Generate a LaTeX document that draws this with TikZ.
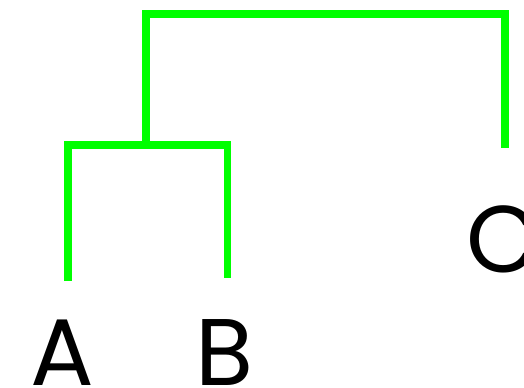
\documentclass[tikz,border=0pt]{standalone}
\usepackage{fontspec}
\setmainfont{Poppins}

\definecolor{branchgreen}{RGB}{0,255,0}

\tikzset{
  leaf/.style={inner sep=0pt,anchor=base,font=\fontsize{95}{95}\selectfont},
  branch/.style={draw=branchgreen,line width=7.5bp}
}

\begin{document}
\begin{tikzpicture}[x=1bp,y=-1bp]
  \useasboundingbox (0,0) rectangle (524,387);

  \node[leaf] (A) at (+62.5,+385.0) {A};
  \node[leaf] (B) at (+225.0,+385.0) {B};
  \node[leaf] (C) at (+503.0,+272.0) {C};

  \coordinate (a)    at (+68.0,+281.0);
  \coordinate (b)    at (+227.5,+278.0);
  \coordinate (c)    at (+505.0,+148.0);
  \coordinate (AB)   at (+146.0,+145.0);
  \coordinate (ROOT) at (+146.0,+14.0);

  % A and B first, then C
  \path[branch] (a) |- (AB) -| (b);
  \path[branch] (AB) -- (ROOT) -| (c);

\end{tikzpicture}
\end{document}
